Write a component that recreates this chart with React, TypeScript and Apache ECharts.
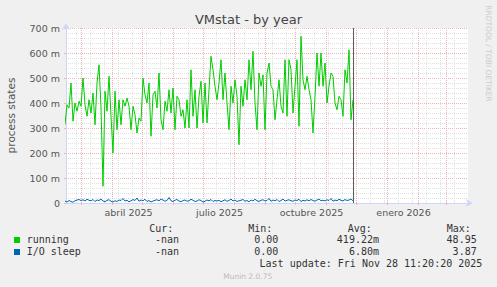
import React, { useEffect, useRef } from 'react';
import * as echarts from 'echarts';

const DAY = 86400000;
const SERIES_START = Date.UTC(2025, 1, 13);
const STEP_DAYS = 2;
const X_MIN = Date.UTC(2025, 1, 14);
const X_MAX = Date.UTC(2026, 2, 23);
const NOW = Date.UTC(2025, 10, 28, 11, 20, 20);

// running (values in milli-units)
const running = [
  313, 393, 380, 480, 327, 400, 367, 407, 387, 500,
  393, 347, 413, 360, 440, 313, 480, 553, 380, 67,
  447, 367, 507, 347, 200, 447, 293, 413, 313, 413,
  387, 420, 387, 293, 387, 353, 280, 340, 327, 500,
  433, 400, 480, 267, 433, 447, 380, 520, 333, 293,
  407, 367, 453, 360, 460, 293, 427, 413, 347, 373,
  300, 413, 300, 533, 347, 453, 300, 427, 487, 320,
  480, 320, 453, 587, 533,
  467, 413, 480, 573, 413, 520, 400, 293, 467, 400,
  493, 427, 233, 467, 387, 493, 413, 573, 453, 607,
  400, 293, 520, 467, 513, 293, 520,
  560, 467, 453, 333, 413, 493, 387, 360, 573, 347,
  573, 533, 360, 467, 573, 307, 667, 493, 453, 507,
  453, 413, 280, 427, 600, 467, 600, 467, 560, 400,
  467, 520, 507, 400, 373, 427, 413, 347, 533, 480,
  613, 333, 413,
];

// I/O sleep (values in milli-units)
const ioSleep = [
  8, 4, 10, 6, 3, 9, 12, 14, 10, 13,
  8, 15, 11, 9, 14, 6, 12, 10, 16, 8,
  5, 11, 13, 7, 4, 9, 6, 12, 10, 18,
  8, 11, 5, 9, 14, 10, 20, 7, 12, 9,
  15, 6, 10, 4, 8, 11, 13, 9, 16, 12,
  7, 10, 22, 9, 6, 11, 14, 8, 5, 10,
  12, 7, 9, 15, 11, 6, 8, 13, 10, 4,
  7, 12, 9, 14, 6, 10, 8, 11, 5, 9,
  13, 7, 10, 16, 8, 12, 6, 9, 11, 14,
  7, 10, 5, 12, 8, 15, 9, 6, 11, 13,
  8, 10, 18, 7, 12, 9, 14, 6, 10, 16,
  8, 11, 13, 9, 7, 12, 10, 15, 6, 11,
  8, 13, 9, 14, 10, 7, 12, 16, 9, 11,
  8, 13, 10, 18, 7, 12, 9, 15, 11, 8,
  14, 10, 12, 16, 9,
];

const xTickLabels = ['abril 2025', 'julio 2025', 'octubre 2025', 'enero 2026'];
const xTickDates = [
  Date.UTC(2025, 3, 17, 12),
  Date.UTC(2025, 6, 17, 12),
  Date.UTC(2025, 9, 17, 12),
  Date.UTC(2026, 0, 17, 12),
];
const yTicks = [0, 100, 200, 300, 400, 500, 600, 700];

const legendNames = ['running', 'I/O sleep'];
const legendColors = ['#00CC00', '#0066B3'];
const legendCur = ['-nan', '-nan'];
const legendMin = ['0.00', '0.00'];
const legendAvg = ['419.22m', '6.80m'];
const legendMax = ['48.95', '3.87'];

function monthStarts(): number[] {
  const out: number[] = [];
  for (let y = 2025; y <= 2026; y++) {
    for (let m = 0; m < 12; m++) {
      const t = Date.UTC(y, m, 1);
      if (t > X_MIN && t < X_MAX) out.push(t);
    }
  }
  return out;
}

function biweekly(): number[] {
  const months = monthStarts();
  const out: number[] = [];
  for (let t = Date.UTC(2025, 1, 24); t < X_MAX; t += 14 * DAY) {
    if (!months.some((m) => Math.abs(m - t) < 1.5 * DAY)) out.push(t);
  }
  return out;
}

export default function App() {
  const ref = useRef<HTMLDivElement>(null);
  useEffect(() => {
    if (!ref.current) return;
    const chart = echarts.init(ref.current, undefined, { renderer: 'svg' });
    const toData = (arr: number[]) => arr.map((v, i) => [SERIES_START + i * STEP_DAYS * DAY, v]);
    const mono = 'DejaVu Sans Mono';
    const sans = 'DejaVu Sans';
    const rowY = [239.5, 251.5];
    const graphics: any[] = [
      { type: 'text', x: 248.5, y: 19.5, style: { text: 'VMstat - by year', font: `13px "${sans}"`, fill: '#444', align: 'center', verticalAlign: 'middle' } },
      { type: 'text', x: 11, y: 115.5, rotation: Math.PI / 2, style: { text: 'process states', font: `10.5px "${sans}"`, fill: '#555', align: 'center', verticalAlign: 'middle' } },
      { type: 'text', x: 488, y: 53.5, rotation: -Math.PI / 2, style: { text: 'RRDTOOL / TOBI OETIKER', font: `7.5px "${sans}"`, fill: '#ccc', align: 'center', verticalAlign: 'middle' } },
      { type: 'text', x: 149.3, y: 228.5, style: { text: 'Cur:', font: `10px "${mono}"`, fill: '#333', align: 'left', verticalAlign: 'middle' } },
      { type: 'text', x: 248.3, y: 228.5, style: { text: 'Min:', font: `10px "${mono}"`, fill: '#333', align: 'left', verticalAlign: 'middle' } },
      { type: 'text', x: 347.7, y: 228.5, style: { text: 'Avg:', font: `10px "${mono}"`, fill: '#333', align: 'left', verticalAlign: 'middle' } },
      { type: 'text', x: 446.7, y: 228.5, style: { text: 'Max:', font: `10px "${mono}"`, fill: '#333', align: 'left', verticalAlign: 'middle' } },
      { type: 'text', x: 482.3, y: 263.7, style: { text: 'Last update: Fri Nov 28 11:20:20 2025', font: `10px "${mono}"`, fill: '#333', align: 'right', verticalAlign: 'middle' } },
      { type: 'text', x: 247.7, y: 276.5, style: { text: 'Munin 2.0.75', font: `7.5px "${sans}"`, fill: '#bbb', align: 'center', verticalAlign: 'middle' } },
    ];
    legendNames.forEach((name, i) => {
      const y = rowY[i];
      graphics.push({ type: 'rect', shape: { x: 14, y: Math.round(y) - 3, width: 6, height: 6 }, style: { fill: legendColors[i] } });
      graphics.push({ type: 'text', x: 26.7, y, style: { text: name, font: `10px "${mono}"`, fill: '#333', align: 'left', verticalAlign: 'middle' } });
      graphics.push({ type: 'text', x: 179, y, style: { text: legendCur[i], font: `10px "${mono}"`, fill: '#333', align: 'right', verticalAlign: 'middle' } });
      graphics.push({ type: 'text', x: 278.3, y, style: { text: legendMin[i], font: `10px "${mono}"`, fill: '#333', align: 'right', verticalAlign: 'middle' } });
      graphics.push({ type: 'text', x: 379, y, style: { text: legendAvg[i], font: `10px "${mono}"`, fill: '#333', align: 'right', verticalAlign: 'middle' } });
      graphics.push({ type: 'text', x: 476.7, y, style: { text: legendMax[i], font: `10px "${mono}"`, fill: '#333', align: 'right', verticalAlign: 'middle' } });
    });

    const axisColor = '#CFD6F8';
    const majorColor = '#EDB4B4';
    const minorColor = '#E0E0E0';
    const nowColor = '#5E5E5E';

    chart.setOption({
      animation: false,
      backgroundColor: '#F0F0F0',
      textStyle: { fontFamily: sans },
      grid: { left: 66, right: 29, top: 28, bottom: 84, show: true, backgroundColor: '#FFFFFF', borderWidth: 0 },
      xAxis: [
        {
          type: 'value', min: X_MIN, max: X_MAX, position: 'bottom',
          axisLine: { show: false }, axisLabel: { show: false },
          axisTick: { show: false, customValues: biweekly() },
          splitLine: { show: true, lineStyle: { color: minorColor, type: [1, 1], width: 1 } },
        },
        {
          type: 'value', min: X_MIN, max: X_MAX, position: 'bottom',
          axisLine: { show: true, onZero: false, lineStyle: { color: axisColor, width: 1 }, symbol: ['none', 'arrow'], symbolSize: [6, 7], symbolOffset: [0, 5] },
          axisTick: { show: true, length: 2, lineStyle: { color: majorColor }, customValues: monthStarts() },
          axisLabel: {
            show: true, customValues: xTickDates, margin: 4, color: '#555', fontSize: 9.5, fontFamily: sans,
            formatter: (v: number) => {
              const i = xTickDates.indexOf(v);
              return i >= 0 ? xTickLabels[i] : '';
            },
          },
          splitLine: { show: true, lineStyle: { color: majorColor, type: [1, 1], width: 1 } },
        },
      ],
      yAxis: {
        type: 'value', min: 0, max: 700, interval: 100,
        axisLine: { show: true, lineStyle: { color: axisColor, width: 1 }, symbol: ['none', 'arrow'], symbolSize: [6, 7], symbolOffset: [0, 5] },
        axisTick: { show: true, length: 2, lineStyle: { color: majorColor } },
        axisLabel: {
          margin: 6, color: '#555', fontSize: 9.5, fontFamily: sans,
          formatter: (v: number) => (yTicks.indexOf(v) >= 0 ? (v === 0 ? '0' : `${v} m`) : ''),
        },
        splitLine: { show: true, lineStyle: { color: majorColor, type: [1, 1], width: 1 } },
        minorTick: { show: false, splitNumber: 5 },
        minorSplitLine: { show: true, lineStyle: { color: minorColor, type: [1, 1], width: 1 } },
      },
      series: [
        {
          type: 'line', name: 'I/O sleep', xAxisIndex: 1, data: toData(ioSleep), showSymbol: false, symbol: 'none',
          lineStyle: { color: '#0066B3', width: 1 }, itemStyle: { color: '#0066B3' }, z: 3,
        },
        {
          type: 'line', name: 'running', xAxisIndex: 1, data: toData(running), showSymbol: false, symbol: 'none',
          lineStyle: { color: '#00CC00', width: 1 }, itemStyle: { color: '#00CC00' }, z: 4,
        },
      ],
      graphic: graphics,
    });

    // "now" rule placed through the chart's own scales
    const nx = chart.convertToPixel({ xAxisIndex: 1 }, NOW) as number;
    const yTop = chart.convertToPixel({ yAxisIndex: 0 }, 700) as number;
    const yBot = chart.convertToPixel({ yAxisIndex: 0 }, 0) as number;
    if (isFinite(nx)) {
      const px = Math.round(nx) + 0.5;
      chart.setOption({
        graphic: [...graphics, {
          type: 'line', z: 10, silent: true,
          shape: { x1: px, y1: yTop, x2: px, y2: yBot },
          style: { stroke: nowColor, lineWidth: 1 },
        }],
      });
    }
    return () => chart.dispose();
  }, []);
  return <div ref={ref} style={{ position: 'absolute', left: 0, top: 0, width: 497, height: 287 }} />;
}
